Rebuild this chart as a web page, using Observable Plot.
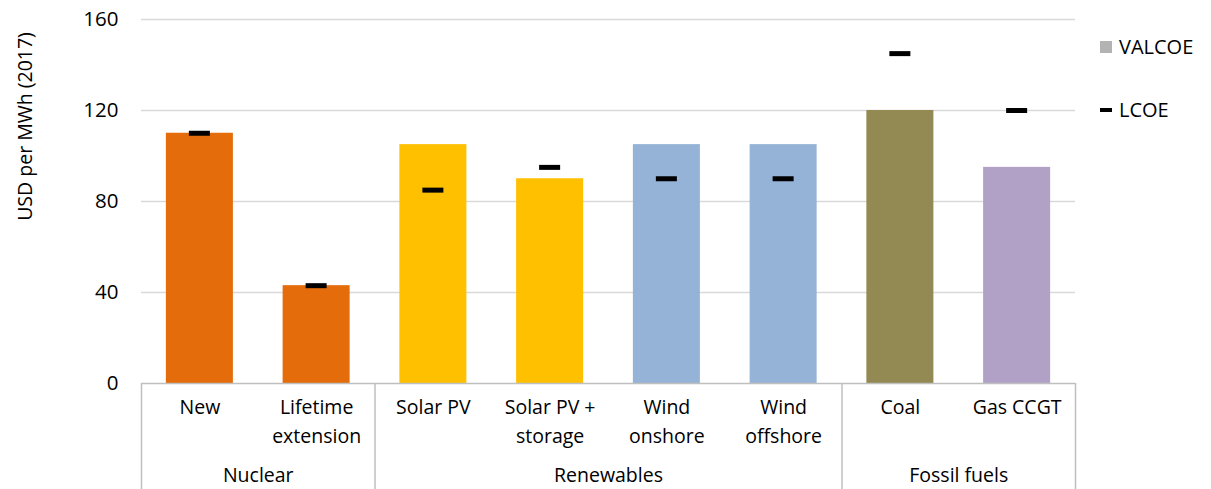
<!DOCTYPE html>
<html>
<head>
<meta charset="utf-8">
<script src="https://cdn.jsdelivr.net/npm/d3@7"></script>
<script src="https://cdn.jsdelivr.net/npm/@observablehq/plot@0.6"></script>
<style>
  html, body { margin: 0; padding: 0; background: #fff; }
  #wrap { position: relative; width: 1211px; height: 489px; font-family: "Segoe UI", "Open Sans", sans-serif; }
  .leg { position: absolute; left: 1100px; font-size: 20px; color: #000; display: flex; align-items: center; }
  .sw { display: inline-block; width: 12px; height: 12px; background: #b3b3b3; margin-right: 7px; }
  .dash { display: inline-block; width: 12px; height: 4px; background: #000; margin-right: 7px; }
</style>
</head>
<body>
<div id="wrap"></div>
<script>
const categories = ["New", "Lifetime\nextension", "Solar PV", "Solar PV +\nstorage", "Wind\nonshore", "Wind\noffshore", "Coal", "Gas CCGT"];
const groups = ["Nuclear", "Nuclear", "Renewables", "Renewables", "Renewables", "Renewables", "Fossil fuels", "Fossil fuels"];
const valcoe = [110, 43, 105, 90, 105, 105, 120, 95];
const lcoe = [110, 43, 85, 95, 90, 90, 145, 120];
const colors = ["#E46C0A", "#E46C0A", "#FFC000", "#FFC000", "#95B3D7", "#95B3D7", "#938953", "#B2A1C7"];
const yTicks = [0, 40, 80, 120, 160];

const data = categories.map((c, i) => ({i, c, g: groups[i], v: valcoe[i], l: lcoe[i], col: colors[i]}));
const groupNames = [...new Set(groups)];
const groupData = groupNames.map(g => {
  const idx = data.filter(d => d.g === g).map(d => d.i);
  return {g, mid: d3.mean(idx), lo: d3.min(idx) - 0.5, hi: d3.max(idx) + 0.5};
});
const seps = [...new Set(groupData.flatMap(d => [d.lo, d.hi]))];

const half = 0.287, tickHalf = 0.09;
const font = "Segoe UI, Open Sans, sans-serif";

const chart = Plot.plot({
  width: 1211, height: 489,
  marginLeft: 141, marginRight: 136, marginTop: 19, marginBottom: 106,
  style: {fontFamily: font, fontSize: "19px", color: "#000", background: "#fff"},
  x: {type: "linear", domain: [-0.5, categories.length - 0.5], axis: null},
  y: {domain: [0, 160], axis: null},
  marks: [
    Plot.ruleY(yTicks.filter(t => t > 0), {stroke: "#d9d9d9", strokeWidth: 1.3}),
    Plot.text(yTicks, {x: -0.5, y: d => d, text: d => String(d), textAnchor: "end", dx: -23, fontSize: 20.5, fill: "#000"}),
    Plot.rectY(data, {x1: d => d.i - half, x2: d => d.i + half, y1: 0, y2: "v", fill: "col"}),
    Plot.ruleY(data, {x1: d => d.i - tickHalf, x2: d => d.i + tickHalf, y: "l", stroke: "#000", strokeWidth: 5}),
    Plot.ruleY([0], {stroke: "#bfbfbf", strokeWidth: 1.5}),
    Plot.ruleX(seps, {x: d => d, stroke: "#bfbfbf", strokeWidth: 1.5, insetTop: 364, insetBottom: -106}),
    Plot.text(data, {x: "i", y: 0, text: "c", lineAnchor: "top", dy: 10, lineHeight: 1.48, fontSize: 19.5, fill: "#000"}),
    Plot.text(groupData, {x: "mid", y: 0, text: "g", lineAnchor: "middle", dy: 92, fontSize: 19.5, fill: "#000"}),
    Plot.text(["USD per MWh (2017)"], {frameAnchor: "top-left", dx: -123, dy: 107, rotate: -90, textAnchor: "middle", fontSize: 19.5, fill: "#000"})
  ]
});

const wrap = document.getElementById("wrap");
wrap.appendChild(chart);
const l1 = document.createElement("div");
l1.className = "leg"; l1.style.top = "33px";
l1.innerHTML = '<span class="sw"></span>VALCOE';
const l2 = document.createElement("div");
l2.className = "leg"; l2.style.top = "96px";
l2.innerHTML = '<span class="dash"></span>LCOE';
wrap.appendChild(l1); wrap.appendChild(l2);
</script>
</body>
</html>
